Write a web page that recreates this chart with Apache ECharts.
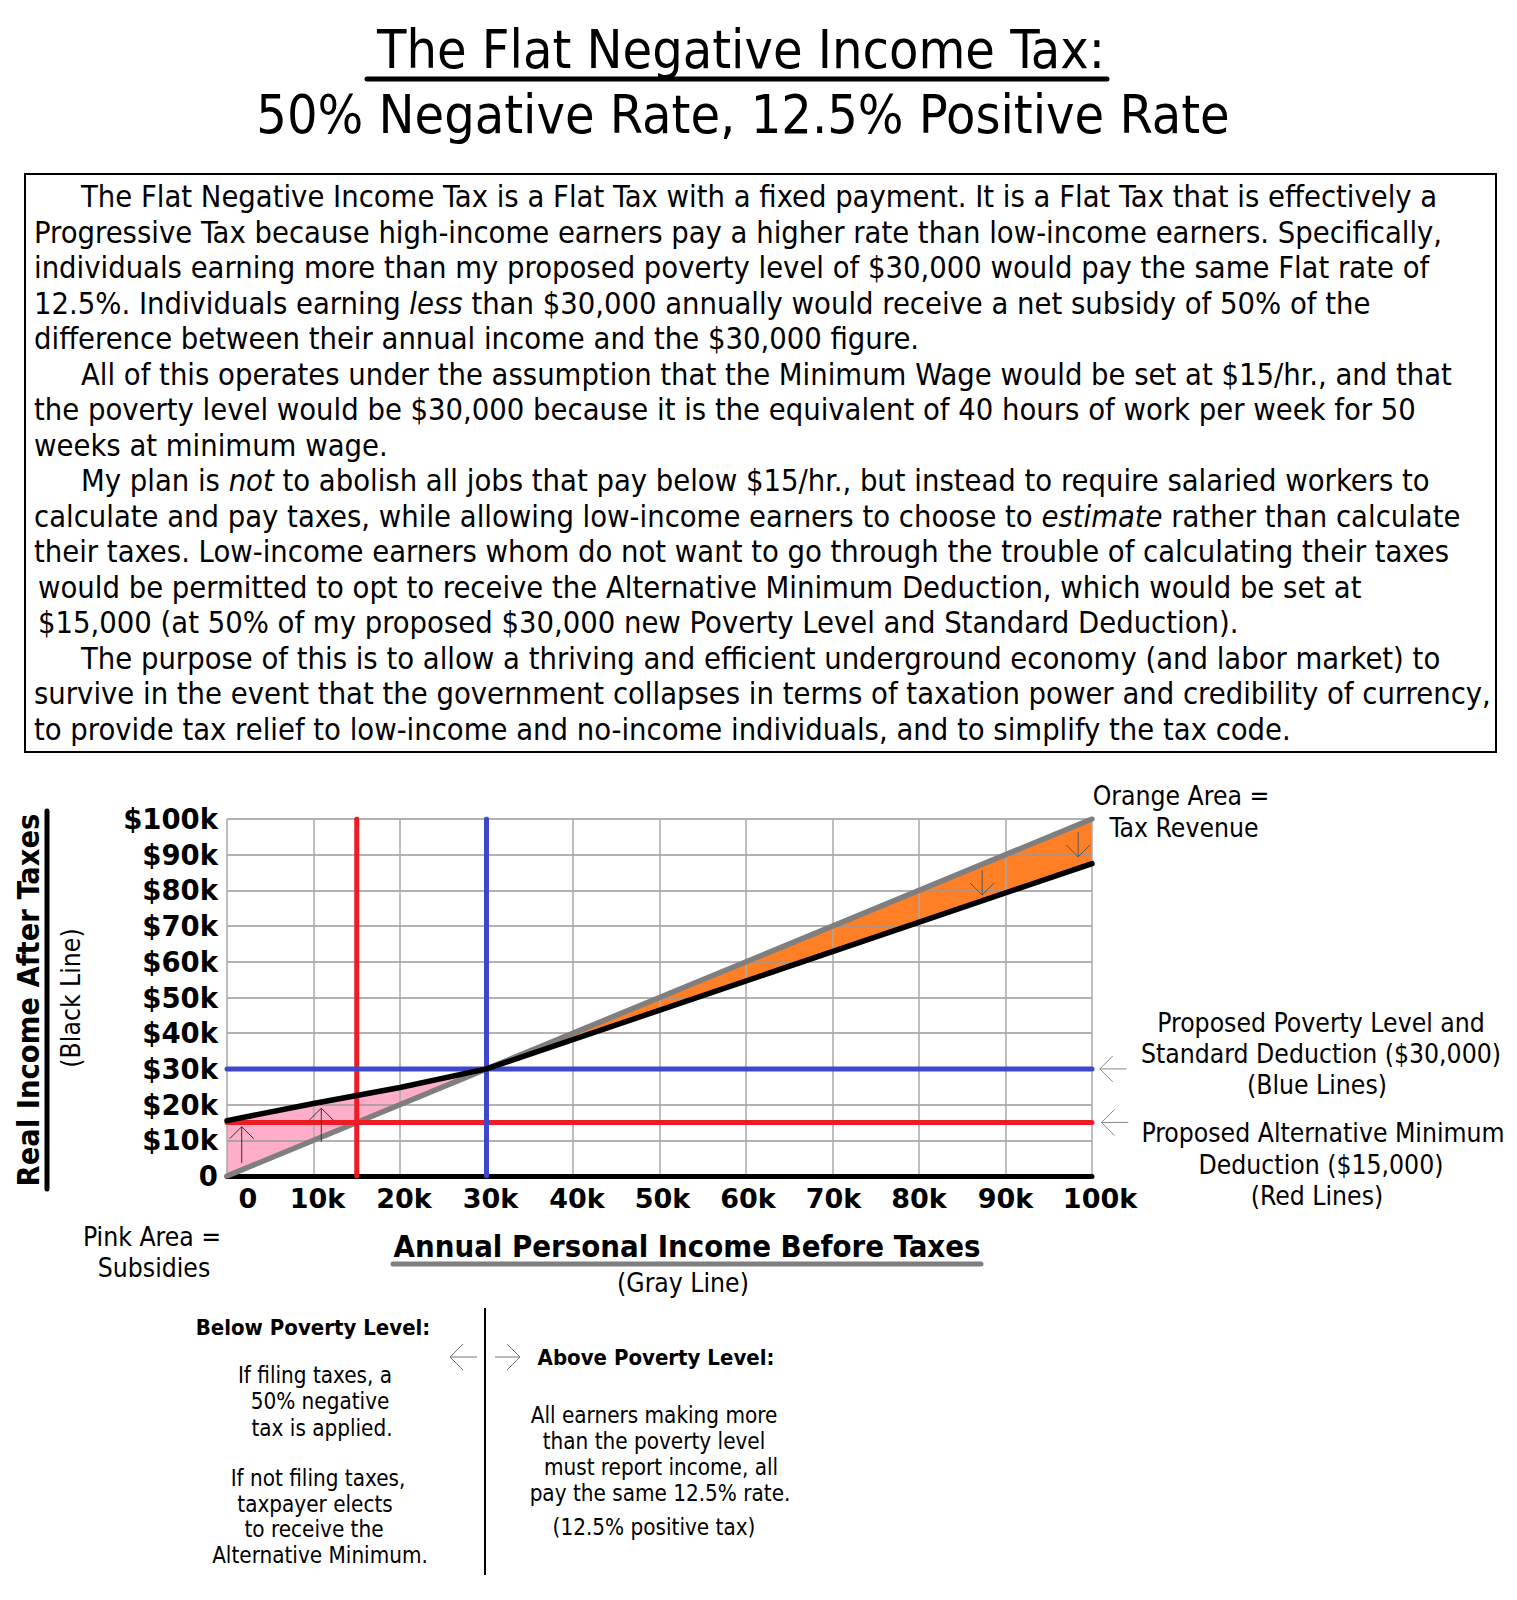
<!DOCTYPE html>
<html>
<head>
<meta charset="utf-8">
<style>
html,body{margin:0;padding:0;background:#fff;}
#c{width:1517px;height:1600px;}
</style>
</head>
<body>
<div id="c"></div>
<script src="https://cdn.jsdelivr.net/npm/echarts/dist/echarts.min.js"></script>
<script>
// ---------------- DATA ----------------
const titleLines = ['The Flat Negative Income Tax:', '50% Negative Rate, 12.5% Positive Rate'];

const paragraphLines = [
  'The Flat Negative Income Tax is a Flat Tax with a fixed payment. It is a Flat Tax that is effectively a',
  'Progressive Tax because high-income earners pay a higher rate than low-income earners. Specifically,',
  'individuals earning more than my proposed poverty level of $30,000 would pay the same Flat rate of',
  '12.5%. Individuals earning {i|less} than $30,000 annually would receive a net subsidy of 50% of the',
  'difference between their annual income and the $30,000 figure.',
  'All of this operates under the assumption that the Minimum Wage would be set at $15/hr., and that',
  'the poverty level would be $30,000 because it is the equivalent of 40 hours of work per week for 50',
  'weeks at minimum wage.',
  'My plan is {i|not} to abolish all jobs that pay below $15/hr., but instead to require salaried workers to',
  'calculate and pay taxes, while allowing low-income earners to choose to {i|estimate} rather than calculate',
  'their taxes. Low-income earners whom do not want to go through the trouble of calculating their taxes',
  'would be permitted to opt to receive the Alternative Minimum Deduction, which would be set at',
  '$15,000 (at 50% of my proposed $30,000 new Poverty Level and Standard Deduction).',
  'The purpose of this is to allow a thriving and efficient underground economy (and labor market) to',
  'survive in the event that the government collapses in terms of taxation power and credibility of currency,',
  'to provide tax relief to low-income and no-income individuals, and to simplify the tax code.'
];
const indentedLines = [0, 5, 8, 13];
const nudgedLines = [11, 12];

const xTickLabels = ['0', '10k', '20k', '30k', '40k', '50k', '60k', '70k', '80k', '90k', '100k'];
const yTickLabels = ['0', '$10k', '$20k', '$30k', '$40k', '$50k', '$60k', '$70k', '$80k', '$90k', '$100k'];

// income before taxes (gray line is income itself)
const grossIncome = [0, 100000];
// after-tax income below poverty level
const incomeBelow = [0, 10000, 20000, 30000];
const afterTaxBelow = [15500, 20300, 24800, 30000];
// after-tax income above poverty level
const incomeAbove = [30000, 100000];
const afterTaxAbove = [30000, 87500];

const povertyLevel = 30000;
const altMinDeduction = 15000;
const axisMax = 100000;

// arrows: [xFrom, yFrom, xTo, yTo]
const subsidyArrows = [[1700, 3600, 1700, 13800], [10900, 9600, 10900, 19000]];
const revenueArrows = [[87300, 85700, 87300, 78700], [98400, 96400, 98400, 89400]];
const pointerArrows = [[104000, 30000, 100900, 30000], [104200, 15000, 101100, 15000]];

const yAxisTitle = 'Real Income After Taxes';
const yAxisSub = '(Black Line)';
const xAxisTitle = 'Annual Personal Income Before Taxes';
const xAxisSub = '(Gray Line)';
const orangeNote = ['Orange Area =', 'Tax Revenue'];
const pinkNote = ['Pink Area =', 'Subsidies'];
const blueNote = ['Proposed Poverty Level and', 'Standard Deduction ($30,000)', '(Blue Lines)'];
const redNote = ['Proposed Alternative Minimum', 'Deduction ($15,000)', '(Red Lines)'];
const belowHeader = 'Below Poverty Level:';
const belowLines = ['If filing taxes, a', '50% negative', 'tax is applied.', 'If not filing taxes,', 'taxpayer elects', 'to receive the', 'Alternative Minimum.'];
const aboveHeader = 'Above Poverty Level:';
const aboveLines = ['All earners making more', 'than the poverty level', 'must report income, all', 'pay the same 12.5% rate.', '(12.5% positive tax)'];

// ---------------- STYLE / LAYOUT ----------------
const COND = '"DejaVu Sans Condensed", "DejaVu Sans", sans-serif';
const REG = '"DejaVu Sans", sans-serif';
const GRAY = '#7f7f7f', PINK = '#ffaec9', ORANGE = '#ff7f27', RED = '#ed1c24', BLUE = '#3f48cc';

function txt(text, x, y, size, opts) {
  opts = opts || {};
  return {
    type: 'text', x: x, y: y, z: 20, rotation: opts.rotation || 0,
    style: {
      text: text, fontSize: size, fontFamily: opts.family || COND,
      fontWeight: opts.weight || 'normal', fill: opts.color || '#000',
      align: opts.align || 'center', verticalAlign: 'middle',
      rich: opts.rich
    }
  };
}
function gline(x1, y1, x2, y2, w, color, cap) {
  return { type: 'line', z: 20, shape: { x1, y1, x2, y2 }, style: { stroke: color, lineWidth: w, lineCap: cap || 'round' } };
}
function gpoly(points, color) {
  return { type: 'polyline', z: 20, shape: { points }, style: { stroke: color, lineWidth: 1, fill: null } };
}

const PF = 30.6; // paragraph font size
const graphics = [];
// title
graphics.push(txt(titleLines[0], 741, 49, 53.5));
graphics.push(gline(367, 79, 1107, 79, 5, '#000'));
graphics.push(txt(titleLines[1], 743, 114, 53.5));
// paragraph box
graphics.push({ type: 'rect', z: 20, shape: { x: 25, y: 174, width: 1471, height: 578 }, style: { fill: 'none', stroke: '#000', lineWidth: 2 } });
const richItalic = { i: { fontStyle: 'italic', fontSize: PF, fontFamily: COND, fill: '#000' } };
paragraphLines.forEach(function (line, i) {
  const x = indentedLines.indexOf(i) >= 0 ? 81 : (nudgedLines.indexOf(i) >= 0 ? 38 : 34);
  graphics.push(txt(line, x, 196.6 + i * 35.5, PF, { align: 'left', rich: richItalic }));
});
// y axis title
graphics.push(txt(yAxisTitle, 28, 1000, 30.5, { weight: 'bold', rotation: Math.PI / 2 }));
graphics.push(gline(47, 811, 47, 1189, 5, '#000'));
graphics.push(txt(yAxisSub, 71, 998, 26.3, { rotation: Math.PI / 2 }));
// x axis title
graphics.push(txt(xAxisTitle, 687, 1246, 30.8, { weight: 'bold' }));
graphics.push(gline(393, 1264, 981, 1264, 5, GRAY));
graphics.push(txt(xAxisSub, 683, 1283, 26.3));
// notes
graphics.push(txt(pinkNote[0], 152, 1237, 26.3));
graphics.push(txt(pinkNote[1], 154, 1268, 26.3));
graphics.push(txt(orangeNote[0], 1181, 796, 26.3));
graphics.push(txt(orangeNote[1], 1184, 828, 26.3));
[1023, 1054, 1085].forEach(function (y, i) { graphics.push(txt(blueNote[i], [1321, 1321, 1317][i], y, 26.3)); });
[1133, 1165, 1196].forEach(function (y, i) { graphics.push(txt(redNote[i], [1323, 1321, 1317][i], y, 26.3)); });
// bottom explanation
graphics.push(txt(belowHeader, 313, 1327, 22, { weight: 'bold' }));
const belowX = [315, 320, 322, 318, 315, 314, 320];
const belowY = [1375, 1401, 1428, 1478, 1504, 1529, 1555];
belowLines.forEach(function (l, i) { graphics.push(txt(l, belowX[i], belowY[i], 22.3)); });
graphics.push(txt(aboveHeader, 656, 1357, 22, { weight: 'bold' }));
const aboveX = [654, 654, 661, 660, 654];
const aboveY = [1415, 1441, 1467, 1493, 1527];
aboveLines.forEach(function (l, i) { graphics.push(txt(l, aboveX[i], aboveY[i], 22.3)); });
graphics.push(gline(485, 1308, 485, 1575, 2, '#000', 'butt'));
graphics.push(gline(477, 1357, 450, 1357, 1, '#777', 'butt'));
graphics.push(gpoly([[463, 1344], [450, 1357], [463, 1370]], '#777'));
graphics.push(gline(495, 1357, 520, 1357, 1, '#777', 'butt'));
graphics.push(gpoly([[507, 1344], [520, 1357], [507, 1370]], '#777'));

// filled band between two lines, drawn through the chart's scales
function bandSeries(xs, lower, upper, color) {
  return {
    type: 'custom', z: 0, silent: true, clip: true,
    data: xs.map(function (x, i) { return [x, lower[i], upper[i]]; }),
    encode: { x: 0, y: [1, 2] },
    renderItem: function (params, api) {
      if (params.dataIndex !== 0) return;
      const pts = [];
      for (let i = 0; i < xs.length; i++) pts.push(api.coord([xs[i], upper[i]]));
      for (let i = xs.length - 1; i >= 0; i--) pts.push(api.coord([xs[i], lower[i]]));
      return { type: 'polygon', shape: { points: pts }, style: { fill: color } };
    }
  };
}

// arrow renderer through the chart's scales
function arrowSeries(data, color, head) {
  return {
    type: 'custom', data: data, z: 7, silent: true, clip: false,
    encode: { x: [0, 2], y: [1, 3] },
    renderItem: function (params, api) {
      const p1 = api.coord([api.value(0), api.value(1)]);
      const p2 = api.coord([api.value(2), api.value(3)]);
      const dx = p2[0] - p1[0], dy = p2[1] - p1[1];
      const len = Math.sqrt(dx * dx + dy * dy) || 1;
      const ux = dx / len, uy = dy / len, nx = -uy, ny = ux;
      const bx = p2[0] - ux * head, by = p2[1] - uy * head;
      return {
        type: 'group', children: [
          { type: 'line', shape: { x1: p1[0], y1: p1[1], x2: p2[0], y2: p2[1] }, style: { stroke: color, lineWidth: 1 } },
          { type: 'polyline', shape: { points: [[bx + nx * head, by + ny * head], [p2[0], p2[1]], [bx - nx * head, by - ny * head]] }, style: { stroke: color, lineWidth: 1, fill: null } }
        ]
      };
    }
  };
}

function plainLine(data, color, width, z) {
  return {
    type: 'line', data: data, symbol: 'none', z: z, silent: true,
    lineStyle: { color: color, width: width, cap: 'round', join: 'round' },
    itemStyle: { color: color }
  };
}

const labelShift = [42, 8, 8, 8, 8, 6, 4, 2, 0, 0, 16];

const chart = echarts.init(document.getElementById('c'), null, { renderer: 'svg', width: 1517, height: 1600 });
chart.setOption({
  animation: false,
  backgroundColor: '#fff',
  grid: { left: 227, top: 819, width: 865, height: 357, containLabel: false },
  xAxis: {
    type: 'value', min: 0, max: axisMax, interval: 10000, z: 1,
    axisLine: { show: true, onZero: false, lineStyle: { color: '#000', width: 5, cap: 'round' } },
    axisTick: { show: false },
    splitLine: { show: true, lineStyle: { color: '#a8a8a8', width: 1.5 } },
    axisLabel: {
      margin: 9, color: '#000', fontSize: 27, fontWeight: 'bold', fontFamily: REG,
      formatter: function (v) { const k = Math.round(v / 10000); return '{s' + k + '|' + xTickLabels[k] + '}'; },
      rich: (function () {
        const r = {};
        labelShift.forEach(function (p, k) { r['s' + k] = { padding: [0, 0, 0, p], fontSize: 27, fontWeight: 'bold', fontFamily: REG, color: '#000' }; });
        return r;
      })()
    }
  },
  yAxis: {
    type: 'value', min: 0, max: axisMax, interval: 10000, z: 1,
    axisLine: { show: false },
    axisTick: { show: false },
    splitLine: { show: true, lineStyle: { color: '#999', width: 1.5 } },
    axisLabel: {
      margin: 9, color: '#000', fontSize: 27.5, fontWeight: 'bold', fontFamily: REG,
      formatter: function (v) { return yTickLabels[Math.round(v / 10000)]; }
    }
  },
  graphic: { elements: graphics },
  series: [
    bandSeries(incomeBelow, incomeBelow, afterTaxBelow, PINK),
    bandSeries(incomeAbove, afterTaxAbove, incomeAbove, ORANGE),
    plainLine(grossIncome.map(function (v) { return [v, v]; }), GRAY, 5.5, 3),
    plainLine([[altMinDeduction, 0], [altMinDeduction, axisMax]], RED, 5, 4),
    plainLine([[0, altMinDeduction], [axisMax, altMinDeduction]], RED, 5, 4),
    plainLine([[povertyLevel, 0], [povertyLevel, axisMax]], BLUE, 5, 4),
    plainLine([[0, povertyLevel], [axisMax, povertyLevel]], BLUE, 5, 4),
    plainLine(incomeBelow.map(function (x, i) { return [x, afterTaxBelow[i]]; })
      .concat(incomeAbove.slice(1).map(function (x, i) { return [x, afterTaxAbove[i + 1]]; })), '#000', 5.5, 6),
    arrowSeries(subsidyArrows, '#333', 12),
    arrowSeries(revenueArrows, '#555', 12),
    arrowSeries(pointerArrows, '#888', 13)
  ]
});
</script>
</body>
</html>
